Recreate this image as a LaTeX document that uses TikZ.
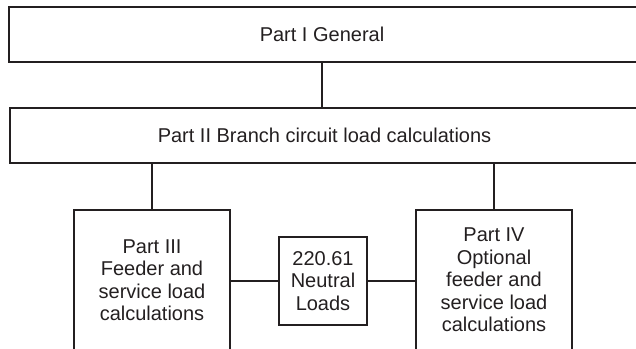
\documentclass[tikz,border=0pt]{standalone}
\usepackage{fontspec}
\setmainfont{Liberation Sans}
\definecolor{ink}{HTML}{231F20}
\begin{document}
\begin{tikzpicture}[x=1pt,y=-1pt,
  box/.style={draw=ink, line width=1.8pt, inner sep=0pt},
  lbl/.style={text=ink, font=\fontsize{20}{22.5}\selectfont, align=center, inner sep=0pt},
  link/.style={draw=ink, line width=1.4pt}]
\useasboundingbox (0,0) rectangle (636,348);
% boxes
\node[box, minimum width=640pt, minimum height=55pt] (gen) at (329,34.5) {};
\node[lbl] (genT) at (322,34.5) {Part I General};
\node[box, minimum width=640pt, minimum height=55pt] (branch) at (330,135.5) {};
\node[lbl] (branchT) at (324.5,135.5) {Part II Branch circuit load calculations};
\node[box, minimum width=156pt, minimum height=161pt, anchor=north] (p3) at (152,209) {};
\node[lbl] (p3T) at (152,280) {Part III\\Feeder and\\service load\\calculations};
\node[box, minimum width=156pt, minimum height=161pt, anchor=north] (p4) at (494,209) {};
\node[lbl] (p4T) at (494,280) {Part IV\\Optional\\feeder and\\service load\\calculations};
\node[box, lbl, minimum width=88pt, minimum height=88pt] (nl) at (323,281) {220.61\\Neutral\\Loads};
% connectors
\draw[link] (genT |- gen.south) -- (genT |- branch.north);
\draw[link] (p3.north) -- (p3.north |- branch.south);
\draw[link] (p4.north) -- (p4.north |- branch.south);
\draw[link] (nl.west -| p3.east) -- (nl.west);
\draw[link] (nl.east) -- (nl.east -| p4.west);
\end{tikzpicture}
\end{document}
